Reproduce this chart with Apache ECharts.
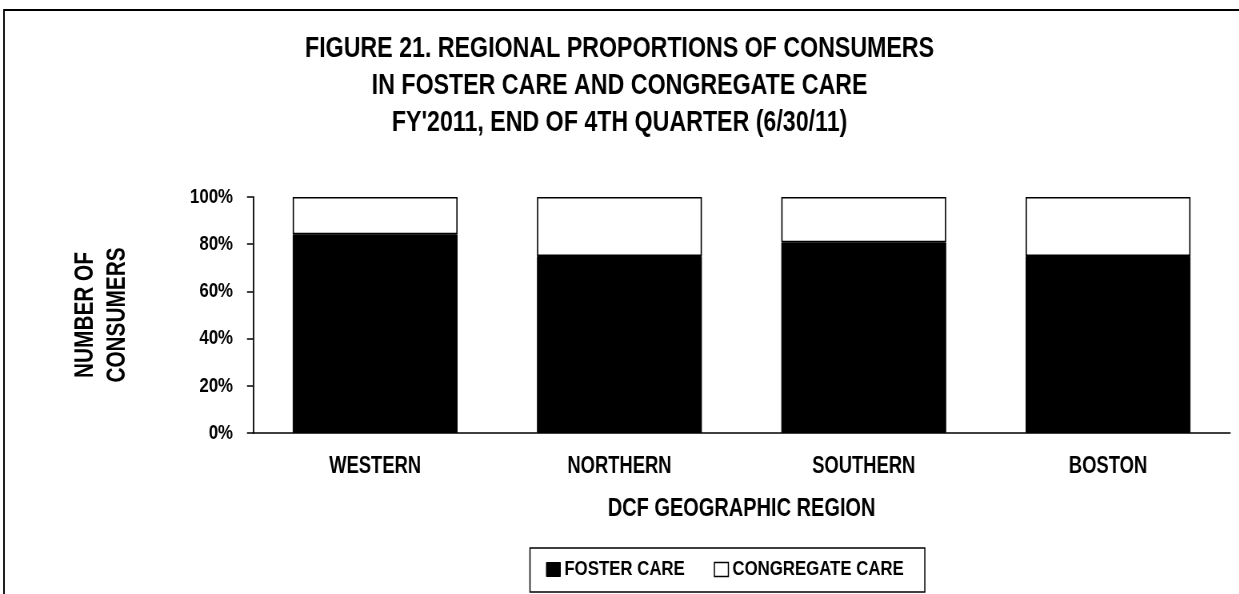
<!DOCTYPE html>
<html>
<head>
<meta charset="utf-8">
<script src="https://cdn.jsdelivr.net/npm/echarts@6/dist/echarts.min.js"></script>
<style>
  html, body { margin: 0; padding: 0; background: #fff; overflow: hidden; }
  /* the original uses a condensed bold face; no narrow font is installed,
     so the chart is drawn wider and squeezed horizontally */
  #chart { width: 1549px; height: 594px; transform: scaleX(0.8); transform-origin: 0 0; }
</style>
</head>
<body>
<div id="chart"></div>
<script>
// data (percent of consumers)
const regions = ['WESTERN', 'NORTHERN', 'SOUTHERN', 'BOSTON'];
const fosterCare = [84.2, 75.0, 80.8, 75.0];
const congregateCare = [15.8, 25.0, 19.2, 25.0];
const titleLines = [
    'FIGURE 21. REGIONAL PROPORTIONS OF CONSUMERS',
    'IN FOSTER CARE AND CONGREGATE CARE',
    "FY'2011, END OF 4TH QUARTER (6/30/11)"
];

const K = 0.8; // horizontal squeeze, keep in sync with the css
const px = x => x / K; // screen x -> chart x
const font = '"Liberation Sans", Arial, sans-serif';

const chart = echarts.init(document.getElementById('chart'));

const options = {
    animation: false,
    textStyle: { fontFamily: font },
    title: {
        text: titleLines.join('\n'),
        left: 'center',
        top: 25,
        textStyle: {
            fontFamily: font,
            fontSize: 29,
            fontWeight: 'bold',
            color: '#000',
            lineHeight: 37
        }
    },
    graphic: [
        // outer frame, cut off on the right and bottom like the original
        {
            type: 'rect',
            shape: { x: px(4), y: 10, width: 2000, height: 700 },
            style: { fill: 'none', stroke: '#000', lineWidth: 2 }
        },
        // y axis title, rotated
        {
            type: 'text',
            x: px(102),
            y: 315,
            rotation: Math.PI / 2,
            scaleX: K,
            scaleY: 1 / K,
            style: {
                text: 'NUMBER OF\nCONSUMERS',
                font: 'bold 26px ' + font,
                lineHeight: 32,
                fill: '#000',
                align: 'center',
                verticalAlign: 'middle'
            }
        }
    ],
    legend: {
        bottom: 2,
        left: px(530),
        itemWidth: px(14),
        itemHeight: 14,
        itemGap: px(29),
        padding: [11, px(21), 12, px(16)],
        borderColor: '#000',
        borderWidth: 1.5,
        textStyle: { fontFamily: font, fontSize: 21, fontWeight: 'bold', color: '#000' },
        data: [
            { name: 'FOSTER CARE', icon: 'rect', itemStyle: { color: '#000', borderColor: '#000', borderWidth: 1 } },
            { name: 'CONGREGATE CARE', icon: 'rect', itemStyle: { color: '#fff', borderColor: '#000', borderWidth: 1.5 } }
        ]
    },
    grid: {
        left: px(253),
        right: px(9),
        top: 197,
        bottom: 161
    },
    xAxis: {
        type: 'category',
        data: regions,
        name: 'DCF GEOGRAPHIC REGION',
        nameLocation: 'middle',
        nameGap: 64,
        nameTextStyle: { fontFamily: font, fontSize: 25, fontWeight: 'bold', color: '#000' },
        axisLine: { lineStyle: { color: '#000', width: 1.5 } },
        axisTick: { length: 7, lineStyle: { color: '#000', width: 1.8 } },
        axisLabel: { margin: 22, fontFamily: font, fontSize: 23, fontWeight: 'bold', color: '#000' }
    },
    yAxis: {
        type: 'value',
        min: 0,
        max: 100,
        interval: 20,
        splitLine: { show: false },
        axisLine: { show: true, lineStyle: { color: '#000', width: 1.8 } },
        axisTick: { show: true, length: px(6), lineStyle: { color: '#000', width: 1.5 } },
        axisLabel: {
            margin: px(20),
            formatter: '{value}%',
            fontFamily: font,
            fontSize: 21,
            fontWeight: 'bold',
            color: '#000'
        }
    },
    series: [
        {
            name: 'FOSTER CARE',
            type: 'bar',
            stack: 'total',
            barCategoryGap: '32.5%',
            itemStyle: { color: '#000', borderColor: '#000', borderWidth: 1 },
            data: fosterCare
        },
        {
            name: 'CONGREGATE CARE',
            type: 'bar',
            stack: 'total',
            barCategoryGap: '32.5%',
            itemStyle: { color: '#fff', borderColor: '#000', borderWidth: 1.6 },
            data: congregateCare
        }
    ]
};

chart.setOption(options);
window.addEventListener('resize', () => chart.resize());
</script>
</body>
</html>
